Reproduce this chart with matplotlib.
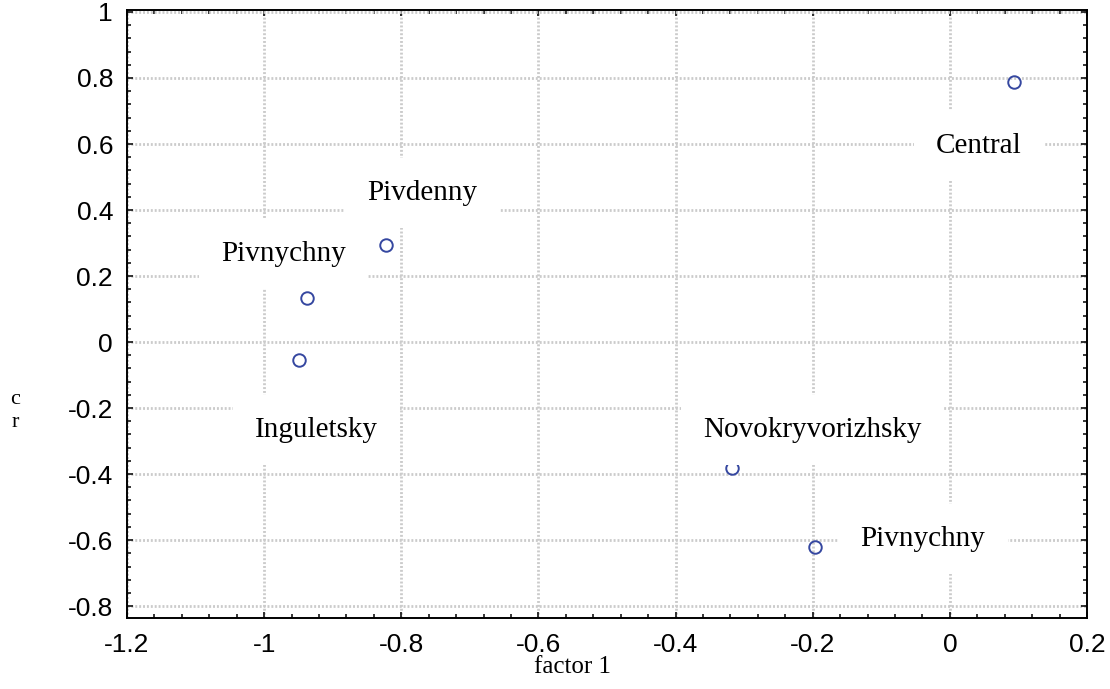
import matplotlib
matplotlib.use("Agg")
import matplotlib.pyplot as plt
from matplotlib.ticker import MultipleLocator, FuncFormatter

plt.rcParams['axes.unicode_minus'] = False

# --- datos: coordenadas de los distritos ---
districts = ["Central", "Pivdenny", "Pivnychny", "Inguletsky", "Novokryvorizhsky", "Pivnychny"]
factor1 = [0.093, -0.822, -0.937, -0.949, -0.318, -0.197]
factor2 = [0.788, 0.294, 0.133, -0.055, -0.382, -0.621]

# posiciones de las etiquetas
label_x = [0.042, -0.769, -0.972, -0.924, -0.201, -0.039]
label_y = [0.594, 0.452, 0.267, -0.267, -0.267, -0.597]

x_ticks = [-1.2, -1.0, -0.8, -0.6, -0.4, -0.2, 0.0, 0.2]
y_ticks = [-0.8, -0.6, -0.4, -0.2, 0.0, 0.2, 0.4, 0.6, 0.8, 1.0]

fig = plt.figure(figsize=(11.1, 6.89), dpi=100)
ax = fig.add_axes([127 / 1110, 1 - 618 / 689, 960 / 1110, 608 / 689])

ax.plot(factor1, factor2, 'o', mfc='none', mec='#3547a0', ms=9, mew=1.4, zorder=2)

for name, lx, ly in zip(districts, label_x, label_y):
    ax.text(lx, ly, name, fontsize=21, family='Liberation Serif', ha='center', va='center',
            zorder=3, bbox=dict(facecolor='white', edgecolor='none', pad=16))

ax.set_xlim(-1.2, 0.2)
ax.set_ylim(-0.836, 1.006)
ax.set_xticks(x_ticks)
ax.set_yticks(y_ticks)
ax.xaxis.set_minor_locator(MultipleLocator(0.04))
ax.yaxis.set_minor_locator(MultipleLocator(0.04))
fmt = FuncFormatter(lambda v, p: "%g" % round(v, 2))
ax.xaxis.set_major_formatter(fmt)
ax.yaxis.set_major_formatter(fmt)

ax.tick_params(which='both', direction='in', top=True, right=True, width=1.1, color='black')
ax.tick_params(which='major', length=4.5)
ax.tick_params(which='minor', length=3)
ax.tick_params(axis='x', which='major', pad=11, labelsize=19)
ax.tick_params(axis='y', which='major', pad=10, labelsize=19)
for lab in ax.get_xticklabels() + ax.get_yticklabels():
    lab.set_family('Liberation Sans')

for s in ax.spines.values():
    s.set_linewidth(1.4)

ax.grid(True, which='major', color='#cbcbcb', linestyle=(0, (0.7, 0.7)), linewidth=2.0, zorder=0)
ax.set_axisbelow(True)

fig.text(572 / 1110, 1 - 667 / 689, "factor 1", fontsize=18, family='Liberation Serif',
         ha='center', va='center')
fig.text(15 / 1110, 1 - 411 / 689, "c\nr", fontsize=16, family='Liberation Serif',
         ha='center', va='center', linespacing=1.25)

fig.savefig("out.png", dpi=100)
